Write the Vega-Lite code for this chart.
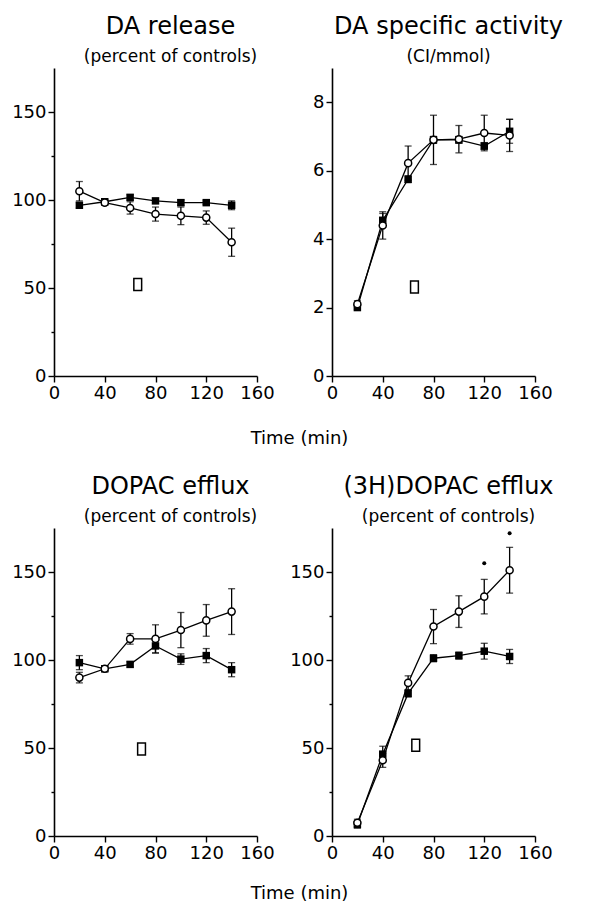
{
  "$schema": "https://vega.github.io/schema/vega-lite/v6.json",
  "padding": {"left": 11, "top": 15, "right": 5, "bottom": 5},
  "background": "white",
  "datasets": {
    "series": [
      {"p": 1, "g": "filled", "t": 20, "v": 97, "e": 1.5},
      {"p": 1, "g": "filled", "t": 40, "v": 99, "e": 1},
      {"p": 1, "g": "filled", "t": 60, "v": 101.5, "e": 1.5},
      {"p": 1, "g": "filled", "t": 80, "v": 99.5, "e": 1},
      {"p": 1, "g": "filled", "t": 100, "v": 98.5, "e": 1.5},
      {"p": 1, "g": "filled", "t": 120, "v": 98.5, "e": 1},
      {"p": 1, "g": "filled", "t": 140, "v": 97, "e": 2.5},
      {"p": 1, "g": "open", "t": 20, "v": 105, "e": 5.5},
      {"p": 1, "g": "open", "t": 40, "v": 98.5, "e": 1.5},
      {"p": 1, "g": "open", "t": 60, "v": 95.5, "e": 3.5},
      {"p": 1, "g": "open", "t": 80, "v": 92, "e": 4},
      {"p": 1, "g": "open", "t": 100, "v": 91, "e": 5},
      {"p": 1, "g": "open", "t": 120, "v": 90, "e": 3.8},
      {"p": 1, "g": "open", "t": 140, "v": 76, "e": 8},
      {"p": 2, "g": "filled", "t": 20, "v": 2.0, "e": 0.05},
      {"p": 2, "g": "filled", "t": 40, "v": 4.55, "e": 0.2},
      {"p": 2, "g": "filled", "t": 60, "v": 5.75, "e": 0.1},
      {"p": 2, "g": "filled", "t": 80, "v": 6.9, "e": 0.1},
      {"p": 2, "g": "filled", "t": 100, "v": 6.9, "e": 0.1},
      {"p": 2, "g": "filled", "t": 120, "v": 6.72, "e": 0.1},
      {"p": 2, "g": "filled", "t": 140, "v": 7.15, "e": 0.35},
      {"p": 2, "g": "open", "t": 20, "v": 2.1, "e": 0.1},
      {"p": 2, "g": "open", "t": 40, "v": 4.4, "e": 0.4},
      {"p": 2, "g": "open", "t": 60, "v": 6.22, "e": 0.5},
      {"p": 2, "g": "open", "t": 80, "v": 6.9, "e": 0.72},
      {"p": 2, "g": "open", "t": 100, "v": 6.92, "e": 0.4},
      {"p": 2, "g": "open", "t": 120, "v": 7.1, "e": 0.52},
      {"p": 2, "g": "open", "t": 140, "v": 7.03, "e": 0.47},
      {"p": 3, "g": "filled", "t": 20, "v": 98.5, "e": 4},
      {"p": 3, "g": "filled", "t": 40, "v": 95, "e": 1.5},
      {"p": 3, "g": "filled", "t": 60, "v": 97.5, "e": 1.5},
      {"p": 3, "g": "filled", "t": 80, "v": 108, "e": 4},
      {"p": 3, "g": "filled", "t": 100, "v": 100.5, "e": 3},
      {"p": 3, "g": "filled", "t": 120, "v": 102.5, "e": 4},
      {"p": 3, "g": "filled", "t": 140, "v": 94.5, "e": 4},
      {"p": 3, "g": "open", "t": 20, "v": 90, "e": 3},
      {"p": 3, "g": "open", "t": 40, "v": 95, "e": 1.5},
      {"p": 3, "g": "open", "t": 60, "v": 112, "e": 3},
      {"p": 3, "g": "open", "t": 80, "v": 112, "e": 8},
      {"p": 3, "g": "open", "t": 100, "v": 117, "e": 10},
      {"p": 3, "g": "open", "t": 120, "v": 122.5, "e": 9},
      {"p": 3, "g": "open", "t": 140, "v": 127.5, "e": 13},
      {"p": 4, "g": "filled", "t": 20, "v": 6.5, "e": 2},
      {"p": 4, "g": "filled", "t": 40, "v": 46.5, "e": 4.5},
      {"p": 4, "g": "filled", "t": 60, "v": 81, "e": 2},
      {"p": 4, "g": "filled", "t": 80, "v": 101, "e": 2},
      {"p": 4, "g": "filled", "t": 100, "v": 102.5, "e": 2},
      {"p": 4, "g": "filled", "t": 120, "v": 105, "e": 4.5},
      {"p": 4, "g": "filled", "t": 140, "v": 102, "e": 4},
      {"p": 4, "g": "open", "t": 20, "v": 7.5, "e": 2},
      {"p": 4, "g": "open", "t": 40, "v": 43, "e": 4},
      {"p": 4, "g": "open", "t": 60, "v": 87, "e": 4},
      {"p": 4, "g": "open", "t": 80, "v": 119, "e": 9.7},
      {"p": 4, "g": "open", "t": 100, "v": 127.5, "e": 9},
      {"p": 4, "g": "open", "t": 120, "v": 136, "e": 9.8},
      {"p": 4, "g": "open", "t": 140, "v": 151, "e": 13}
    ],
    "boxes": [
      {"p": 1, "t": 66, "v": 52},
      {"p": 2, "t": 65, "v": 2.6},
      {"p": 3, "t": 69, "v": 49.5},
      {"p": 4, "t": 66, "v": 51.5}
    ],
    "stars": [
      {"p": 4, "t": 120, "v": 155},
      {"p": 4, "t": 140, "v": 172}
    ]
  },
  "concat": [
    {
      "width": 203, "height": 308,
      "title": {"text": "DA release", "subtitle": "(percent of controls)"},
      "layer": [
        {"data": {"name": "series"}, "transform": [{"filter": "datum.p == 1"}],
         "mark": {"type": "line", "color": "black", "strokeWidth": 1.3},
         "encoding": {
           "x": {"field": "t", "type": "quantitative", "scale": {"domain": [0, 160], "nice": false},
                 "axis": {"values": [0, 20, 40, 60, 80, 100, 120, 140, 160], "labelExpr": "datum.value % 40 === 0 ? datum.label : ''",
                          "tickSize": {"condition": {"test": "datum.value % 40 === 0", "value": 6}, "value": 3},
                          "title": "Time (min)", "titleX": 245, "titlePadding": 27}},
           "y": {"field": "v", "type": "quantitative", "scale": {"domain": [0, 175], "nice": false},
                 "axis": {"values": [0, 25, 50, 75, 100, 125, 150], "labelExpr": "datum.value % 50 === 0 ? datum.label : ''",
                          "tickSize": {"condition": {"test": "datum.value % 50 === 0", "value": 6}, "value": 3}, "title": null}},
           "detail": {"field": "g"}
         }},
        {"data": {"name": "series"}, "transform": [{"filter": "datum.p == 1"}],
         "mark": {"type": "errorbar", "ticks": {"size": 7, "color": "black", "thickness": 1.3}, "rule": {"color": "black", "strokeWidth": 1.3}},
         "encoding": {"x": {"field": "t", "type": "quantitative"}, "y": {"field": "v", "type": "quantitative"}, "yError": {"field": "e"}}},
        {"data": {"name": "series"}, "transform": [{"filter": "datum.p == 1 && datum.g == 'filled'"}],
         "mark": {"type": "point", "shape": "square", "filled": true, "color": "black", "size": 56, "opacity": 1},
         "encoding": {"x": {"field": "t", "type": "quantitative"}, "y": {"field": "v", "type": "quantitative"}}},
        {"data": {"name": "series"}, "transform": [{"filter": "datum.p == 1 && datum.g == 'open'"}],
         "mark": {"type": "point", "shape": "circle", "filled": true, "fill": "white", "stroke": "black", "strokeWidth": 1.5, "size": 50, "opacity": 1},
         "encoding": {"x": {"field": "t", "type": "quantitative"}, "y": {"field": "v", "type": "quantitative"}}},
        {"data": {"name": "boxes"}, "transform": [{"filter": "datum.p == 1"}],
         "mark": {"type": "point", "shape": "M-0.65,-1H0.65V1H-0.65Z", "filled": true, "fill": "white", "stroke": "black", "strokeWidth": 1.5, "size": 144, "opacity": 1},
         "encoding": {"x": {"field": "t", "type": "quantitative"}, "y": {"field": "v", "type": "quantitative"}}}
      ]
    },
    {
      "width": 203, "height": 308,
      "title": {"text": "DA specific activity", "subtitle": "(CI/mmol)"},
      "layer": [
        {"data": {"name": "series"}, "transform": [{"filter": "datum.p == 2"}],
         "mark": {"type": "line", "color": "black", "strokeWidth": 1.3},
         "encoding": {
           "x": {"field": "t", "type": "quantitative", "scale": {"domain": [0, 160], "nice": false},
                 "axis": {"values": [0, 20, 40, 60, 80, 100, 120, 140, 160], "labelExpr": "datum.value % 40 === 0 ? datum.label : ''",
                          "tickSize": {"condition": {"test": "datum.value % 40 === 0", "value": 6}, "value": 3}, "title": null}},
           "y": {"field": "v", "type": "quantitative", "scale": {"domain": [0, 9], "nice": false},
                 "axis": {"values": [0, 1, 2, 3, 4, 5, 6, 7, 8], "labelExpr": "datum.value % 2 === 0 ? datum.label : ''",
                          "tickSize": {"condition": {"test": "datum.value % 2 === 0", "value": 6}, "value": 3}, "title": null}},
           "detail": {"field": "g"}
         }},
        {"data": {"name": "series"}, "transform": [{"filter": "datum.p == 2"}],
         "mark": {"type": "errorbar", "ticks": {"size": 7, "color": "black", "thickness": 1.3}, "rule": {"color": "black", "strokeWidth": 1.3}},
         "encoding": {"x": {"field": "t", "type": "quantitative"}, "y": {"field": "v", "type": "quantitative"}, "yError": {"field": "e"}}},
        {"data": {"name": "series"}, "transform": [{"filter": "datum.p == 2 && datum.g == 'filled'"}],
         "mark": {"type": "point", "shape": "square", "filled": true, "color": "black", "size": 56, "opacity": 1},
         "encoding": {"x": {"field": "t", "type": "quantitative"}, "y": {"field": "v", "type": "quantitative"}}},
        {"data": {"name": "series"}, "transform": [{"filter": "datum.p == 2 && datum.g == 'open'"}],
         "mark": {"type": "point", "shape": "circle", "filled": true, "fill": "white", "stroke": "black", "strokeWidth": 1.5, "size": 50, "opacity": 1},
         "encoding": {"x": {"field": "t", "type": "quantitative"}, "y": {"field": "v", "type": "quantitative"}}},
        {"data": {"name": "boxes"}, "transform": [{"filter": "datum.p == 2"}],
         "mark": {"type": "point", "shape": "M-0.65,-1H0.65V1H-0.65Z", "filled": true, "fill": "white", "stroke": "black", "strokeWidth": 1.5, "size": 144, "opacity": 1},
         "encoding": {"x": {"field": "t", "type": "quantitative"}, "y": {"field": "v", "type": "quantitative"}}}
      ]
    },
    {
      "width": 203, "height": 308,
      "title": {"text": "DOPAC efflux", "subtitle": "(percent of controls)"},
      "layer": [
        {"data": {"name": "series"}, "transform": [{"filter": "datum.p == 3"}],
         "mark": {"type": "line", "color": "black", "strokeWidth": 1.3},
         "encoding": {
           "x": {"field": "t", "type": "quantitative", "scale": {"domain": [0, 160], "nice": false},
                 "axis": {"values": [0, 20, 40, 60, 80, 100, 120, 140, 160], "labelExpr": "datum.value % 40 === 0 ? datum.label : ''",
                          "tickSize": {"condition": {"test": "datum.value % 40 === 0", "value": 6}, "value": 3},
                          "title": "Time (min)", "titleX": 245, "titlePadding": 22}},
           "y": {"field": "v", "type": "quantitative", "scale": {"domain": [0, 175], "nice": false},
                 "axis": {"values": [0, 25, 50, 75, 100, 125, 150], "labelExpr": "datum.value % 50 === 0 ? datum.label : ''",
                          "tickSize": {"condition": {"test": "datum.value % 50 === 0", "value": 6}, "value": 3}, "title": null}},
           "detail": {"field": "g"}
         }},
        {"data": {"name": "series"}, "transform": [{"filter": "datum.p == 3"}],
         "mark": {"type": "errorbar", "ticks": {"size": 7, "color": "black", "thickness": 1.3}, "rule": {"color": "black", "strokeWidth": 1.3}},
         "encoding": {"x": {"field": "t", "type": "quantitative"}, "y": {"field": "v", "type": "quantitative"}, "yError": {"field": "e"}}},
        {"data": {"name": "series"}, "transform": [{"filter": "datum.p == 3 && datum.g == 'filled'"}],
         "mark": {"type": "point", "shape": "square", "filled": true, "color": "black", "size": 56, "opacity": 1},
         "encoding": {"x": {"field": "t", "type": "quantitative"}, "y": {"field": "v", "type": "quantitative"}}},
        {"data": {"name": "series"}, "transform": [{"filter": "datum.p == 3 && datum.g == 'open'"}],
         "mark": {"type": "point", "shape": "circle", "filled": true, "fill": "white", "stroke": "black", "strokeWidth": 1.5, "size": 50, "opacity": 1},
         "encoding": {"x": {"field": "t", "type": "quantitative"}, "y": {"field": "v", "type": "quantitative"}}},
        {"data": {"name": "boxes"}, "transform": [{"filter": "datum.p == 3"}],
         "mark": {"type": "point", "shape": "M-0.65,-1H0.65V1H-0.65Z", "filled": true, "fill": "white", "stroke": "black", "strokeWidth": 1.5, "size": 144, "opacity": 1},
         "encoding": {"x": {"field": "t", "type": "quantitative"}, "y": {"field": "v", "type": "quantitative"}}}
      ]
    },
    {
      "width": 203, "height": 308,
      "title": {"text": "(3H)DOPAC efflux", "subtitle": "(percent of controls)"},
      "layer": [
        {"data": {"name": "series"}, "transform": [{"filter": "datum.p == 4"}],
         "mark": {"type": "line", "color": "black", "strokeWidth": 1.3},
         "encoding": {
           "x": {"field": "t", "type": "quantitative", "scale": {"domain": [0, 160], "nice": false},
                 "axis": {"values": [0, 20, 40, 60, 80, 100, 120, 140, 160], "labelExpr": "datum.value % 40 === 0 ? datum.label : ''",
                          "tickSize": {"condition": {"test": "datum.value % 40 === 0", "value": 6}, "value": 3}, "title": null}},
           "y": {"field": "v", "type": "quantitative", "scale": {"domain": [0, 175], "nice": false},
                 "axis": {"values": [0, 25, 50, 75, 100, 125, 150], "labelExpr": "datum.value % 50 === 0 ? datum.label : ''",
                          "tickSize": {"condition": {"test": "datum.value % 50 === 0", "value": 6}, "value": 3}, "title": null}},
           "detail": {"field": "g"}
         }},
        {"data": {"name": "series"}, "transform": [{"filter": "datum.p == 4"}],
         "mark": {"type": "errorbar", "ticks": {"size": 7, "color": "black", "thickness": 1.3}, "rule": {"color": "black", "strokeWidth": 1.3}},
         "encoding": {"x": {"field": "t", "type": "quantitative"}, "y": {"field": "v", "type": "quantitative"}, "yError": {"field": "e"}}},
        {"data": {"name": "series"}, "transform": [{"filter": "datum.p == 4 && datum.g == 'filled'"}],
         "mark": {"type": "point", "shape": "square", "filled": true, "color": "black", "size": 56, "opacity": 1},
         "encoding": {"x": {"field": "t", "type": "quantitative"}, "y": {"field": "v", "type": "quantitative"}}},
        {"data": {"name": "series"}, "transform": [{"filter": "datum.p == 4 && datum.g == 'open'"}],
         "mark": {"type": "point", "shape": "circle", "filled": true, "fill": "white", "stroke": "black", "strokeWidth": 1.5, "size": 50, "opacity": 1},
         "encoding": {"x": {"field": "t", "type": "quantitative"}, "y": {"field": "v", "type": "quantitative"}}},
        {"data": {"name": "boxes"}, "transform": [{"filter": "datum.p == 4"}],
         "mark": {"type": "point", "shape": "M-0.65,-1H0.65V1H-0.65Z", "filled": true, "fill": "white", "stroke": "black", "strokeWidth": 1.5, "size": 144, "opacity": 1},
         "encoding": {"x": {"field": "t", "type": "quantitative"}, "y": {"field": "v", "type": "quantitative"}}},
        {"data": {"name": "stars"},
         "mark": {"type": "point", "shape": "circle", "filled": true, "color": "black", "size": 16, "opacity": 1},
         "encoding": {"x": {"field": "t", "type": "quantitative"}, "y": {"field": "v", "type": "quantitative"}}}
      ]
    }
  ],
  "columns": 2,
  "spacing": {"row": 152, "column": 75},
  "bounds": "flush",
  "config": {
    "font": "DejaVu Sans",
    "view": {"stroke": null},
    "axis": {"grid": false, "domainColor": "black", "domainWidth": 1.6, "tickColor": "black", "tickWidth": 1.4,
             "labelColor": "black", "labelFontSize": 18, "labelFont": "DejaVu Sans", "labelPadding": 2, "labelOverlap": false, "labelFlush": false,
             "titleColor": "black", "titleFontWeight": "normal", "titleFont": "DejaVu Sans", "titleFontSize": 18},
    "title": {"font": "DejaVu Sans", "fontSize": 24, "fontWeight": "normal", "color": "black",
              "subtitleFont": "DejaVu Sans", "subtitleFontSize": 17, "subtitleColor": "black", "subtitlePadding": 10,
              "offset": 3, "dx": 15, "anchor": "middle"}
  }
}
